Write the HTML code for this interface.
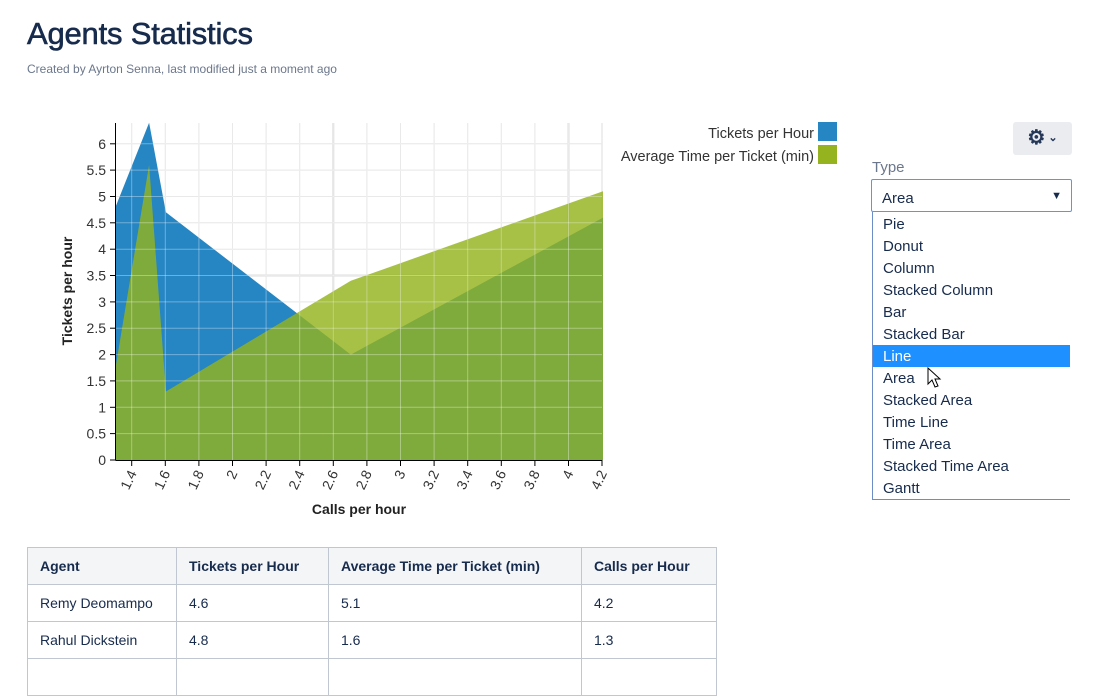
<!DOCTYPE html>
<html><head><meta charset="utf-8"><style>
body{margin:0;width:1109px;height:663px;overflow:hidden;background:#fff;font-family:"Liberation Sans",sans-serif;color:#172b4d;position:relative}
.a{position:absolute}
h1{position:absolute;left:27px;top:16px;margin:0;font-size:31px;font-weight:normal;letter-spacing:-0.2px;color:#172b4d;-webkit-text-stroke:0.6px #172b4d}
.sub{left:27px;top:62px;font-size:12px;color:#6b778c}
table{position:absolute;left:27px;top:547px;border-collapse:collapse;font-size:14px;color:#172b4d}
td,th{border:1px solid #c1c7d0;height:37px;padding:0 12px;text-align:left;box-sizing:border-box}
th{background:#f4f5f7;font-weight:bold}
.item{position:absolute;left:873px;width:197px;height:22px;line-height:24px;font-size:15px;padding-left:10px;box-sizing:border-box;color:#172b4d}
</style></head><body>
<h1>Agents Statistics</h1>
<div class="a sub">Created by Ayrton Senna, last modified just a moment ago</div>

<svg class="a" style="left:0;top:0" width="620" height="530">
<g stroke="#ddd" stroke-width="1">
<line x1="131.7" y1="123" x2="131.7" y2="460"/><line x1="165.3" y1="123" x2="165.3" y2="460"/><line x1="198.9" y1="123" x2="198.9" y2="460"/><line x1="232.5" y1="123" x2="232.5" y2="460"/><line x1="266.1" y1="123" x2="266.1" y2="460"/><line x1="299.7" y1="123" x2="299.7" y2="460"/><line x1="333.3" y1="123" x2="333.3" y2="460" stroke-width="2"/><line x1="366.9" y1="123" x2="366.9" y2="460"/><line x1="400.5" y1="123" x2="400.5" y2="460"/><line x1="434.1" y1="123" x2="434.1" y2="460"/><line x1="467.7" y1="123" x2="467.7" y2="460"/><line x1="501.3" y1="123" x2="501.3" y2="460"/><line x1="534.9" y1="123" x2="534.9" y2="460"/><line x1="568.5" y1="123" x2="568.5" y2="460" stroke-width="2"/><line x1="602" y1="123" x2="602" y2="460"/>
<line x1="116" y1="433.6" x2="602" y2="433.6"/><line x1="116" y1="407.3" x2="602" y2="407.3"/><line x1="116" y1="380.9" x2="602" y2="380.9"/><line x1="116" y1="354.6" x2="602" y2="354.6"/><line x1="116" y1="328.2" x2="602" y2="328.2"/><line x1="116" y1="301.9" x2="602" y2="301.9"/><line x1="116" y1="275.5" x2="602" y2="275.5" stroke-width="2"/><line x1="116" y1="249.2" x2="602" y2="249.2"/><line x1="116" y1="222.8" x2="602" y2="222.8"/><line x1="116" y1="196.5" x2="602" y2="196.5"/><line x1="116" y1="170.1" x2="602" y2="170.1"/><line x1="116" y1="143.8" x2="602" y2="143.8"/>
</g>
<polygon fill="#2685c3" points="115.5,207 149.1,122.7 165.9,212.3 350.8,354.6 603,217.6 603,460 115.5,460"/>
<polygon fill="#94b31f" fill-opacity="0.82" points="115.5,367.8 149.1,164.9 165.9,391.5 350.8,280.8 603,191.2 603,460 115.5,460"/>
<g stroke="#fff" stroke-opacity="0.35" stroke-width="1">
<line x1="116" y1="433.6" x2="602" y2="433.6"/><line x1="116" y1="407.3" x2="602" y2="407.3"/><line x1="116" y1="380.9" x2="602" y2="380.9"/><line x1="116" y1="354.6" x2="602" y2="354.6"/><line x1="116" y1="328.2" x2="602" y2="328.2"/><line x1="116" y1="301.9" x2="602" y2="301.9"/><line x1="116" y1="275.5" x2="602" y2="275.5"/><line x1="116" y1="249.2" x2="602" y2="249.2"/><line x1="116" y1="222.8" x2="602" y2="222.8"/><line x1="116" y1="196.5" x2="602" y2="196.5"/><line x1="116" y1="170.1" x2="602" y2="170.1"/><line x1="116" y1="143.8" x2="602" y2="143.8"/>
<line x1="131.7" y1="123" x2="131.7" y2="460"/><line x1="165.3" y1="123" x2="165.3" y2="460"/><line x1="198.9" y1="123" x2="198.9" y2="460"/><line x1="232.5" y1="123" x2="232.5" y2="460"/><line x1="266.1" y1="123" x2="266.1" y2="460"/><line x1="299.7" y1="123" x2="299.7" y2="460"/><line x1="333.3" y1="123" x2="333.3" y2="460"/><line x1="366.9" y1="123" x2="366.9" y2="460"/><line x1="400.5" y1="123" x2="400.5" y2="460"/><line x1="434.1" y1="123" x2="434.1" y2="460"/><line x1="467.7" y1="123" x2="467.7" y2="460"/><line x1="501.3" y1="123" x2="501.3" y2="460"/><line x1="534.9" y1="123" x2="534.9" y2="460"/><line x1="568.5" y1="123" x2="568.5" y2="460"/>
</g>
<g stroke="#000" stroke-width="1">
<line x1="115.5" y1="123" x2="115.5" y2="460.5"/><line x1="115.5" y1="460.5" x2="602" y2="460.5"/>
<line x1="131.7" y1="460" x2="131.7" y2="466"/><line x1="165.3" y1="460" x2="165.3" y2="466"/><line x1="198.9" y1="460" x2="198.9" y2="466"/><line x1="232.5" y1="460" x2="232.5" y2="466"/><line x1="266.1" y1="460" x2="266.1" y2="466"/><line x1="299.7" y1="460" x2="299.7" y2="466"/><line x1="333.3" y1="460" x2="333.3" y2="466"/><line x1="366.9" y1="460" x2="366.9" y2="466"/><line x1="400.5" y1="460" x2="400.5" y2="466"/><line x1="434.1" y1="460" x2="434.1" y2="466"/><line x1="467.7" y1="460" x2="467.7" y2="466"/><line x1="501.3" y1="460" x2="501.3" y2="466"/><line x1="534.9" y1="460" x2="534.9" y2="466"/><line x1="568.5" y1="460" x2="568.5" y2="466"/><line x1="602" y1="460" x2="602" y2="466"/>
<line x1="110" y1="460" x2="116" y2="460"/><line x1="110" y1="433.6" x2="116" y2="433.6"/><line x1="110" y1="407.3" x2="116" y2="407.3"/><line x1="110" y1="380.9" x2="116" y2="380.9"/><line x1="110" y1="354.6" x2="116" y2="354.6"/><line x1="110" y1="328.2" x2="116" y2="328.2"/><line x1="110" y1="301.9" x2="116" y2="301.9"/><line x1="110" y1="275.5" x2="116" y2="275.5"/><line x1="110" y1="249.2" x2="116" y2="249.2"/><line x1="110" y1="222.8" x2="116" y2="222.8"/><line x1="110" y1="196.5" x2="116" y2="196.5"/><line x1="110" y1="170.1" x2="116" y2="170.1"/><line x1="110" y1="143.8" x2="116" y2="143.8"/>
</g>
<g font-size="14" fill="#333" text-anchor="end">
<text x="106" y="465">0</text><text x="106" y="438.6">0.5</text><text x="106" y="412.3">1</text><text x="106" y="385.9">1.5</text><text x="106" y="359.6">2</text><text x="106" y="333.2">2.5</text><text x="106" y="306.9">3</text><text x="106" y="280.5">3.5</text><text x="106" y="254.2">4</text><text x="106" y="227.8">4.5</text><text x="106" y="201.5">5</text><text x="106" y="175.1">5.5</text><text x="106" y="148.8">6</text>
</g>
<g font-size="14" fill="#333" text-anchor="end">
<text transform="translate(137,473) rotate(-65)">1.4</text><text transform="translate(170.6,473) rotate(-65)">1.6</text><text transform="translate(204.2,473) rotate(-65)">1.8</text><text transform="translate(237.8,473) rotate(-65)">2</text><text transform="translate(271.4,473) rotate(-65)">2.2</text><text transform="translate(305,473) rotate(-65)">2.4</text><text transform="translate(338.6,473) rotate(-65)">2.6</text><text transform="translate(372.2,473) rotate(-65)">2.8</text><text transform="translate(405.8,473) rotate(-65)">3</text><text transform="translate(439.4,473) rotate(-65)">3.2</text><text transform="translate(473,473) rotate(-65)">3.4</text><text transform="translate(506.6,473) rotate(-65)">3.6</text><text transform="translate(540.2,473) rotate(-65)">3.8</text><text transform="translate(573.8,473) rotate(-65)">4</text><text transform="translate(607.3,473) rotate(-65)">4.2</text>
</g>
<text x="359" y="514" font-size="14" font-weight="bold" fill="#222" text-anchor="middle">Calls per hour</text>
<text transform="translate(72,291) rotate(-90)" font-size="14" font-weight="bold" fill="#222" text-anchor="middle">Tickets per hour</text>
</svg>

<div class="a" style="right:295px;top:123px;font-size:14.5px;color:#333;text-align:right;line-height:23px">Tickets per Hour<br>Average Time per Ticket (min)</div>
<div class="a" style="left:818px;top:122px;width:19px;height:19px;background:#2685c3"></div>
<div class="a" style="left:818px;top:145px;width:19px;height:19px;background:#94b31f"></div>

<div class="a" style="left:1013px;top:122px;width:59px;height:33px;background:#ebecf0;border-radius:3px;font-size:20px;line-height:33px;color:#253858;text-align:center;font-weight:bold">⚙<span style="font-size:11px;position:relative;top:-3px"> ⌄</span></div>
<div class="a" style="left:872px;top:159px;font-size:15px;color:#6b778c">Type</div>
<div class="a" style="left:871px;top:179px;width:201px;height:33px;border:1px solid #4c9aff;box-sizing:border-box;border-radius:2px;font-size:15px;line-height:38px;padding-left:10px">Area<span style="position:absolute;right:9px;top:-3px;font-size:11px">▼</span></div>
<div class="a" style="left:872px;top:212px;width:198px;height:288px;border-left:1px solid #6b8ec9;border-bottom:1px solid #6b8ec9;box-sizing:border-box;background:#fff"></div>
<div class="item" style="top:213px">Pie</div>
<div class="item" style="top:235px">Donut</div>
<div class="item" style="top:257px">Column</div>
<div class="item" style="top:279px">Stacked Column</div>
<div class="item" style="top:301px">Bar</div>
<div class="item" style="top:323px">Stacked Bar</div>
<div class="item" style="top:345px;background:#1e90ff;color:#fff">Line</div>
<div class="item" style="top:367px">Area</div>
<div class="item" style="top:389px">Stacked Area</div>
<div class="item" style="top:411px">Time Line</div>
<div class="item" style="top:433px">Time Area</div>
<div class="item" style="top:455px">Stacked Time Area</div>
<div class="item" style="top:477px">Gantt</div>
<svg class="a" style="left:927px;top:367px" width="16" height="24"><path d="M1 1 L1 17 L5 13 L8 20 L11 19 L8 12 L13 12 Z" fill="#fff" stroke="#000" stroke-width="1"/></svg>

<table>
<tr><th style="width:149px">Agent</th><th style="width:152px">Tickets per Hour</th><th style="width:253px">Average Time per Ticket (min)</th><th style="width:135px">Calls per Hour</th></tr>
<tr><td>Remy Deomampo</td><td>4.6</td><td>5.1</td><td>4.2</td></tr>
<tr><td>Rahul Dickstein</td><td>4.8</td><td>1.6</td><td>1.3</td></tr>
<tr><td></td><td></td><td></td><td></td></tr>
</table>
</body></html>
